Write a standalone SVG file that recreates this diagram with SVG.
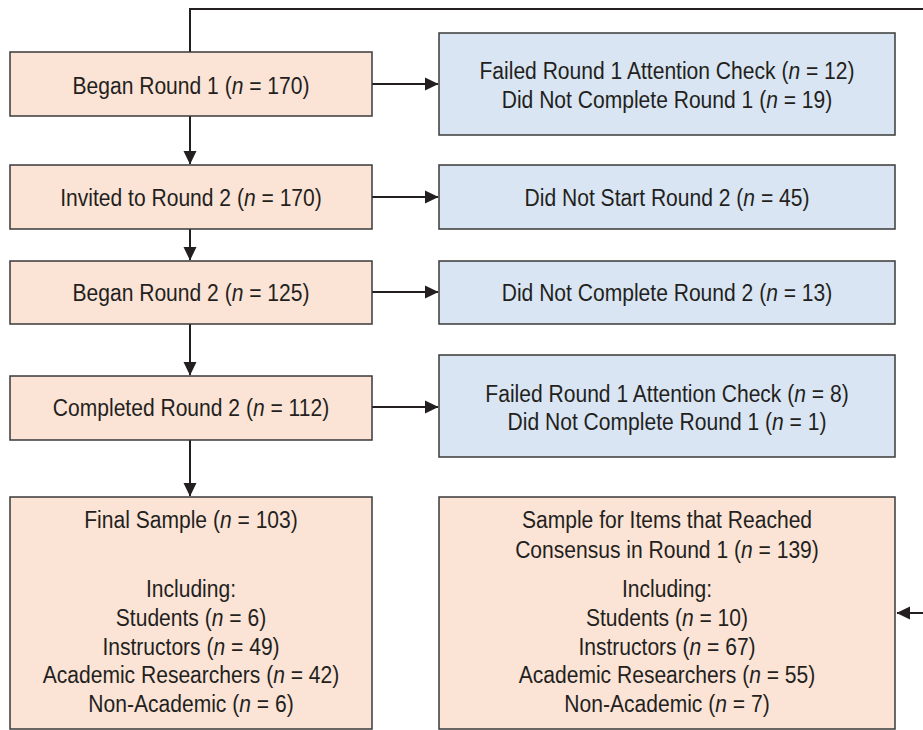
<svg xmlns="http://www.w3.org/2000/svg" width="923" height="730" viewBox="0 0 923 730">
<defs>
<style>
.peach{fill:#FBE3D6;stroke:#3a3a3a;stroke-width:1.5}
.blue{fill:#D9E5F2;stroke:#3a3a3a;stroke-width:1.5}
text{font-family:"Liberation Sans",Arial,sans-serif;font-size:24.5px;fill:#231F20;text-anchor:middle}
.i{font-style:italic}
.c{fill:none;stroke:#231F20;stroke-width:2}
</style>
<marker id="ah" markerUnits="userSpaceOnUse" markerWidth="14" markerHeight="14" refX="13" refY="7" orient="auto">
<path d="M0,0.5 L13.5,7 L0,13.5 Z" fill="#231F20"/>
</marker>
</defs>
<rect width="923" height="730" fill="#ffffff"/>
<g id="connectors">
<path class="c" d="M190,52 V9 H926 V613 H897" marker-end="url(#ah)"/>
<path class="c" d="M190,116 V164" marker-end="url(#ah)"/>
<path class="c" d="M190,229 V260" marker-end="url(#ah)"/>
<path class="c" d="M190,324 V375" marker-end="url(#ah)"/>
<path class="c" d="M190,440 V496" marker-end="url(#ah)"/>
<path class="c" d="M372,84 H438" marker-end="url(#ah)"/>
<path class="c" d="M372,197 H438" marker-end="url(#ah)"/>
<path class="c" d="M372,292 H438" marker-end="url(#ah)"/>
<path class="c" d="M372,407 H438" marker-end="url(#ah)"/>
</g>
<g id="began1">
<rect class="peach" x="10" y="52" width="362" height="64"/>
<text transform="translate(191,94) scale(0.86,1)">Began Round 1 (<tspan class="i">n</tspan> = 170)</text>
</g>
<g id="failed1">
<rect class="blue" x="439" y="33" width="456" height="102"/>
<text transform="translate(667,79) scale(0.86,1)">Failed Round 1 Attention Check (<tspan class="i">n</tspan> = 12)</text>
<text transform="translate(667,108) scale(0.86,1)">Did Not Complete Round 1 (<tspan class="i">n</tspan> = 19)</text>
</g>
<g id="invited2">
<rect class="peach" x="10" y="165" width="362" height="64"/>
<text transform="translate(191,206) scale(0.86,1)">Invited to Round 2 (<tspan class="i">n</tspan> = 170)</text>
</g>
<g id="notstart2">
<rect class="blue" x="439" y="165" width="456" height="64"/>
<text transform="translate(667,206) scale(0.86,1)">Did Not Start Round 2 (<tspan class="i">n</tspan> = 45)</text>
</g>
<g id="began2">
<rect class="peach" x="10" y="261" width="362" height="63"/>
<text transform="translate(191,301) scale(0.86,1)">Began Round 2 (<tspan class="i">n</tspan> = 125)</text>
</g>
<g id="notcomplete2">
<rect class="blue" x="439" y="261" width="456" height="63"/>
<text transform="translate(667,301) scale(0.86,1)">Did Not Complete Round 2 (<tspan class="i">n</tspan> = 13)</text>
</g>
<g id="completed2">
<rect class="peach" x="10" y="376" width="362" height="64"/>
<text transform="translate(191,416) scale(0.86,1)">Completed Round 2 (<tspan class="i">n</tspan> = 112)</text>
</g>
<g id="failed2">
<rect class="blue" x="439" y="355" width="456" height="102"/>
<text transform="translate(667,402) scale(0.86,1)">Failed Round 1 Attention Check (<tspan class="i">n</tspan> = 8)</text>
<text transform="translate(667,430) scale(0.86,1)">Did Not Complete Round 1 (<tspan class="i">n</tspan> = 1)</text>
</g>
<g id="final">
<rect class="peach" x="10" y="497" width="362" height="232"/>
<text transform="translate(191,528) scale(0.86,1)">Final Sample (<tspan class="i">n</tspan> = 103)</text>
<text transform="translate(191,597) scale(0.86,1)">Including:</text>
<text transform="translate(191,626) scale(0.86,1)">Students (<tspan class="i">n</tspan> = 6)</text>
<text transform="translate(191,655) scale(0.86,1)">Instructors (<tspan class="i">n</tspan> = 49)</text>
<text transform="translate(191,683) scale(0.86,1)">Academic Researchers (<tspan class="i">n</tspan> = 42)</text>
<text transform="translate(191,712) scale(0.86,1)">Non-Academic (<tspan class="i">n</tspan> = 6)</text>
</g>
<g id="consensus">
<rect class="peach" x="439" y="497" width="456" height="232"/>
<text transform="translate(667,528) scale(0.86,1)">Sample for Items that Reached</text>
<text transform="translate(667,558) scale(0.86,1)">Consensus in Round 1 (<tspan class="i">n</tspan> = 139)</text>
<text transform="translate(667,597) scale(0.86,1)">Including:</text>
<text transform="translate(667,626) scale(0.86,1)">Students (<tspan class="i">n</tspan> = 10)</text>
<text transform="translate(667,655) scale(0.86,1)">Instructors (<tspan class="i">n</tspan> = 67)</text>
<text transform="translate(667,683) scale(0.86,1)">Academic Researchers (<tspan class="i">n</tspan> = 55)</text>
<text transform="translate(667,712) scale(0.86,1)">Non-Academic (<tspan class="i">n</tspan> = 7)</text>
</g>
</svg>
